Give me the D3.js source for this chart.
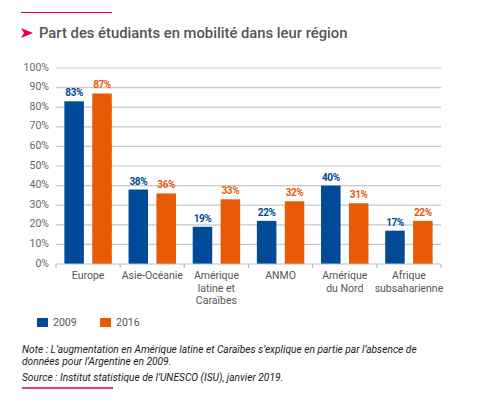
<!DOCTYPE html>
<html>
<head>
<meta charset="utf-8">
<script src="https://cdn.jsdelivr.net/npm/d3@7"></script>
<style>
  body { margin: 0; background: #fff; }
  svg { font-family: Roboto, "Noto Sans", sans-serif; display: block; }
</style>
</head>
<body>
<div id="Chart"></div>
<script>
var regions = [["Europe"], ["Asie-Océanie"], ["Amérique", "latine et", "Caraïbes"], ["ANMO"], ["Amérique", "du Nord"], ["Afrique", "subsaharienne"]];
var years = ["2009", "2016"];
var values2009 = [83, 38, 19, 22, 40, 17];
var values2016 = [87, 36, 33, 32, 31, 22];
var yTicks = [0, 10, 20, 30, 40, 50, 60, 70, 80, 90, 100];
var title = "Part des étudiants en mobilité dans leur région";
var notes = [
    ["Note : L’augmentation en Amérique latine et Caraïbes s’explique en partie par l’absence de", 349],
    ["données pour l’Argentine en 2009.", 361],
    ["Source : Institut statistique de l’UNESCO (ISU), janvier 2019.", 377]
];

var w = 478;
var h = 403;
var colors = {"2009": "#004a98", "2016": "#e85a05"};

var svg = d3.select("#Chart").append("svg")
    .attr("width", w)
    .attr("height", h);

// title block
svg.append("line")
    .attr("x1", 21).attr("x2", 112).attr("y1", 12.5).attr("y2", 12.5)
    .attr("stroke", "#e4003b").attr("stroke-width", 1.2);
svg.append("path")
    .attr("d", "M21,28 L33,33 L21,38 L24,33 Z")
    .attr("fill", "#e4003b");
svg.append("text")
    .attr("x", 39).attr("y", 38)
    .attr("font-size", 14.8)
    .attr("font-weight", 500)
    .attr("fill", "#555")
    .text(title);

var names = regions.map(function(d){ return d.join(" "); });

var x = d3.scaleBand()
    .domain(names)
    .range([56, 441]);

var xSub = d3.scaleBand()
    .domain(years)
    .range([0, x.bandwidth()])
    .paddingInner(0.3)
    .paddingOuter(0.3);

var y = d3.scaleLinear()
    .domain([0, 100])
    .range([264, 68]);

// grid
svg.append("g").selectAll("line")
    .data(yTicks.filter(function(d){ return d > 0; }))
    .enter()
    .append("line")
    .attr("x1", 56).attr("x2", 441)
    .attr("y1", function(d){ return y(d); })
    .attr("y2", function(d){ return y(d); })
    .attr("stroke", "#c8c8c8")
    .attr("stroke-width", 1.2);

svg.append("g").selectAll("text")
    .data(yTicks)
    .enter()
    .append("text")
    .attr("x", 49)
    .attr("y", function(d){ return y(d) - 1; })
    .attr("dy", "0.35em")
    .attr("text-anchor", "end")
    .attr("font-size", 10.5)
    .attr("fill", "#666")
    .text(function(d){ return d + "%"; });

// bars
var rows = [];
names.forEach(function(n, i){
    rows.push({region: n, year: "2009", value: values2009[i]});
    rows.push({region: n, year: "2016", value: values2016[i]});
});

var bars = svg.append("g");
bars.selectAll("rect")
    .data(rows)
    .enter()
    .append("rect")
    .attr("x", function(d){ return x(d.region) + xSub(d.year); })
    .attr("width", xSub.bandwidth())
    .attr("y", function(d){ return y(d.value); })
    .attr("height", function(d){ return y(0) - y(d.value); })
    .attr("fill", function(d){ return colors[d.year]; });

bars.selectAll("text")
    .data(rows)
    .enter()
    .append("text")
    .attr("x", function(d){ return x(d.region) + xSub(d.year) + xSub.bandwidth() / 2; })
    .attr("y", function(d){ return y(d.value) - 5; })
    .attr("text-anchor", "middle")
    .attr("font-size", 10)
    .attr("font-weight", "bold")
    .attr("letter-spacing", -0.4)
    .attr("fill", function(d){ return colors[d.year]; })
    .text(function(d){ return d.value + "%"; });

// x axis
var ax = svg.append("g");
ax.append("line")
    .attr("x1", 56).attr("x2", 441).attr("y1", y(0)).attr("y2", y(0))
    .attr("stroke", "#bbb").attr("stroke-width", 1.2);
ax.selectAll("line.tick")
    .data(names.concat(["end"]))
    .enter()
    .append("line")
    .attr("class", "tick")
    .attr("x1", function(d, i){ return i < names.length ? x(d) : x.range()[1]; })
    .attr("x2", function(d, i){ return i < names.length ? x(d) : x.range()[1]; })
    .attr("y1", y(0)).attr("y2", y(0) + 4)
    .attr("stroke", "#bbb").attr("stroke-width", 1.2);

var lbl = ax.selectAll("text")
    .data(regions)
    .enter()
    .append("text")
    .attr("text-anchor", "middle")
    .attr("font-size", 10.5)
    .attr("fill", "#555")
    .attr("transform", function(d, i){
        return "translate(" + (x(names[i]) + x.bandwidth() / 2) + ",279)";
    });
lbl.selectAll("tspan")
    .data(function(d){ return d; })
    .enter()
    .append("tspan")
    .attr("x", 0)
    .attr("y", function(d, i){ return i * 12.7; })
    .text(function(d){ return d; });

// legend
var leg = svg.append("g").selectAll("g")
    .data(years)
    .enter()
    .append("g")
    .attr("transform", function(d, i){ return "translate(" + (37 + i * 63) + ",318)"; });
leg.append("rect")
    .attr("width", 11).attr("height", 9)
    .attr("fill", function(d){ return colors[d]; });
leg.append("text")
    .attr("x", 16).attr("y", 4.5)
    .attr("dy", "0.35em")
    .attr("font-size", 10.5)
    .attr("fill", "#555")
    .text(function(d){ return d; });

// notes
svg.append("g").selectAll("text")
    .data(notes)
    .enter()
    .append("text")
    .attr("x", 22)
    .attr("y", function(d){ return d[1] + 3.5; })
    .attr("font-size", 10.2)
    .attr("font-style", "italic")
    .attr("fill", "#1a1a1a")
    .text(function(d){ return d[0]; });

svg.append("line")
    .attr("x1", 22).attr("x2", 113).attr("y1", 388).attr("y2", 388)
    .attr("stroke", "#e8396c").attr("stroke-width", 2);
</script>
</body>
</html>
